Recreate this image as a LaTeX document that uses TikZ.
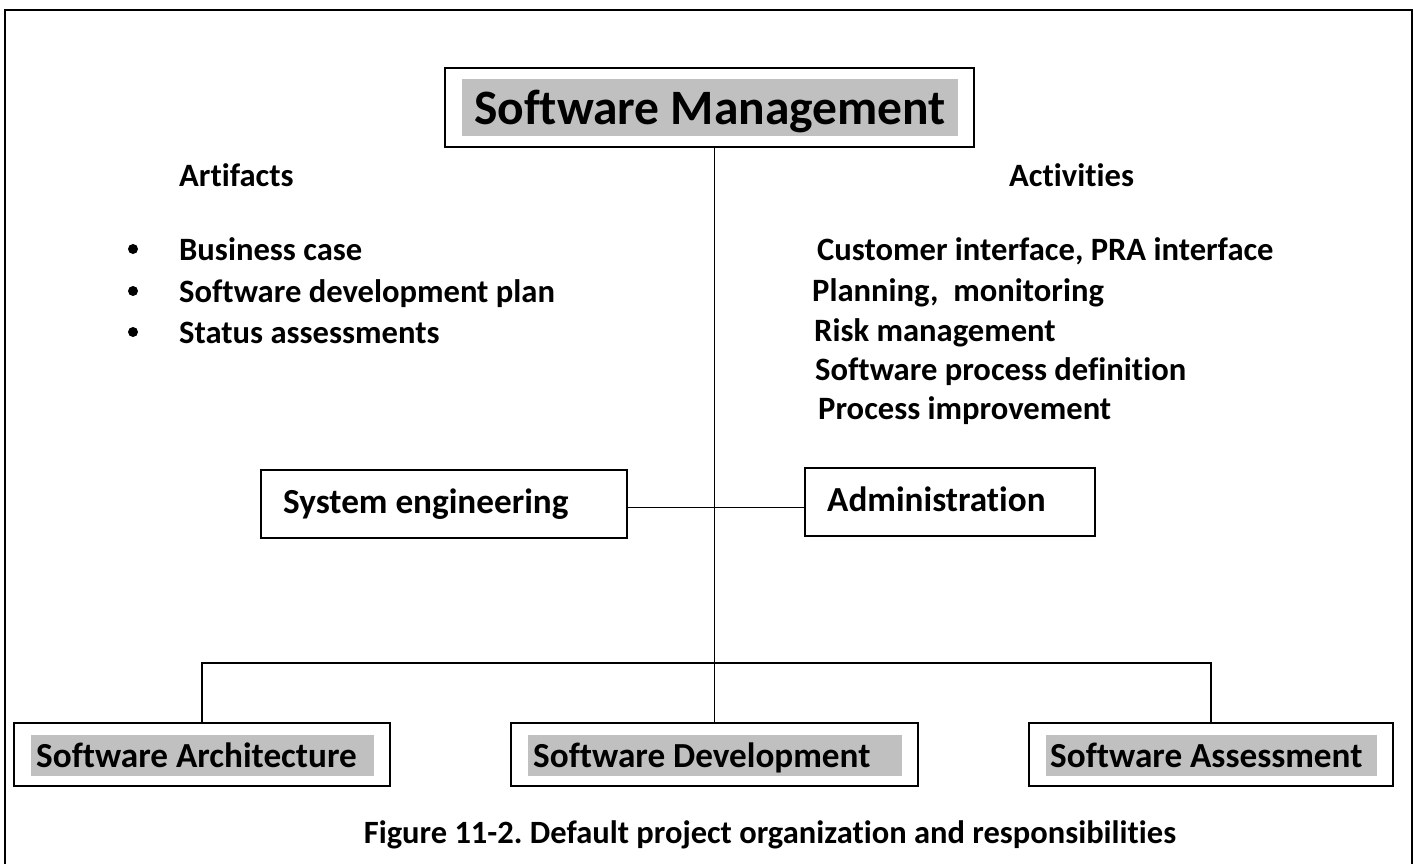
\documentclass[tikz,border=0pt]{standalone}
\usepackage{fontspec}
\setmainfont{Carlito}[Ligatures=CommonOff]
\definecolor{hlgray}{HTML}{C0C0C0}
\begin{document}
\frenchspacing
\begin{tikzpicture}[x=1pt,y=-1pt,
  frame/.style={draw, line width=1.9pt, rectangle, inner sep=0pt},
  hl/.style={fill=hlgray},
  conn/.style={draw, line width=1.9pt},
  txt/.style={anchor=base west, inner sep=0pt, font=\bfseries\fontsize{32.6}{39}\selectfont},
  boxtxt/.style={anchor=base west, inner sep=0pt, font=\bfseries\fontsize{35.2}{42}\selectfont},
  hdrtxt/.style={anchor=base west, inner sep=0pt, font=\bfseries\fontsize{49.5}{59}\selectfont}]
\useasboundingbox (0,0) rectangle (1414,863);
% outer frame
\draw[line width=2pt] (5,870) -- (5,10) -- (1412,10) -- (1412,870);

% top box
\node[frame, minimum width=529pt, minimum height=79pt] (sm) at (709.5,107.5) {};
\fill[hl] (462,79) rectangle (958,136);
\node[hdrtxt] (smt) at (474,124) {Software Management};

% headings
\node[txt] (art) at (179,186) {Artifacts};
\node[txt] (act) at (1009,186) {Activities};

% artifacts list
\fill (133,249) circle (5);
\fill (133,291) circle (5);
\fill (133,332) circle (5);
\node[txt] (a1) at (179,260) {Business case};
\node[txt] (a2) at (179,302) {Software development plan};
\node[txt] (a3) at (179,343) {Status assessments};

% activities list
\node[txt] (b1) at (817,260) {Customer interface, PRA interface};
\node[txt] (b2) at (812,301) {Planning,\ \ monitoring};
\node[txt] (b3) at (814,341) {Risk management};
\node[txt] (b4) at (815,380) {Software process definition};
\node[txt] (b5) at (818,419) {Process improvement};

% middle boxes
\node[frame, minimum width=366pt, minimum height=68pt] (sys) at (444,504) {};
\node[boxtxt] (syst) at (283,513) {System engineering};
\node[frame, minimum width=290pt, minimum height=68pt] (adm) at (950,502) {};
\node[boxtxt] (admt) at (827,511) {Administration};

% bottom boxes
\node[frame, minimum width=376pt, minimum height=63pt] (arch) at (202,754.5) {};
\fill[hl] (31,735) rectangle (374,776);
\node[boxtxt] (archt) at (36,767) {Software Architecture};
\node[frame, minimum width=407pt, minimum height=63pt] (dev) at (714.5,754.5) {};
\fill[hl] (528,735) rectangle (902,776);
\node[boxtxt] (devt) at (533,767) {Software Development};
\node[frame, minimum width=364pt, minimum height=63pt] (ass) at (1211,754.5) {};
\fill[hl] (1046,735) rectangle (1377,776);
\node[boxtxt] (asst) at (1050,767) {Software Assessment};

% connectors
\draw[conn] (dev.north |- sm.south) -- (dev.north);
\draw[conn] (sys.east |- 0,507.5) -- (adm.west |- 0,507.5);
\draw[conn] (arch.north) -- (arch.north |- 0,663) -- (ass.north |- 0,663) -- (ass.north);

% caption
\node[anchor=base, inner sep=0pt, font=\bfseries\fontsize{32.5}{39}\selectfont] (cap) at (770,843) {Figure 11-2. Default project organization and responsibilities};
\end{tikzpicture}
\end{document}
